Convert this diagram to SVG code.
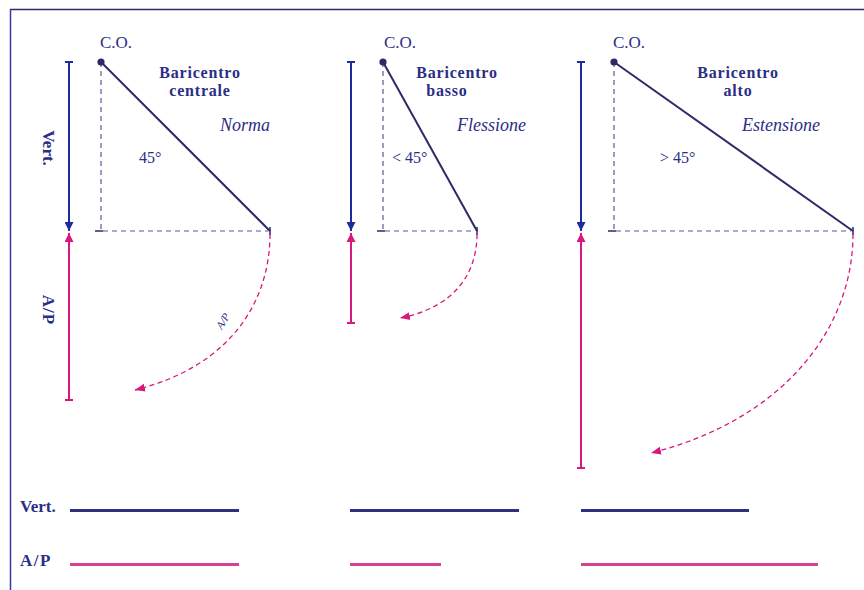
<svg xmlns="http://www.w3.org/2000/svg" width="864" height="590" viewBox="0 0 864 590">
<defs>
<marker id="ahBlue" viewBox="0 0 10 10" refX="10" refY="5" markerWidth="9" markerHeight="9" markerUnits="userSpaceOnUse" orient="auto"><path d="M0,0 L10,5 L0,10 Z" fill="#1f2a9c"/></marker>
<marker id="ahMag" viewBox="0 0 10 10" refX="10" refY="5" markerWidth="9" markerHeight="9" markerUnits="userSpaceOnUse" orient="auto"><path d="M0,0 L10,5 L0,10 Z" fill="#d8187e"/></marker>
<marker id="ahMagS" viewBox="0 0 10 10" refX="10" refY="5" markerWidth="10" markerHeight="10" markerUnits="userSpaceOnUse" orient="auto"><path d="M0,1 L10,5 L0,9 Z" fill="#d8187e"/></marker>
</defs>
<style>
.t{font-family:"Liberation Serif","Times New Roman",serif;fill:#2b2e85}
.co{font-size:17px}
.b{font-size:16px;font-weight:bold;text-anchor:middle;letter-spacing:0.8px}
.i{font-size:18px;font-style:italic}
.ang{font-size:16px}
.lab{font-size:17px;font-weight:bold}
.diag{stroke:#2c2a68;stroke-width:2;fill:none}
.dash{stroke:#5a5a96;stroke-width:1.2;stroke-dasharray:5,4;fill:none}
.tick{stroke:#2c2a68;stroke-width:1.5;fill:none}
.vb{stroke:#1f2a9c;stroke-width:2;fill:none}
.vm{stroke:#d8187e;stroke-width:2;fill:none}
.arc{stroke:#d8187e;stroke-width:1.3;stroke-dasharray:5,3.5;fill:none}
.lb{stroke:#2e3080;stroke-width:3}
.lm{stroke:#d8418f;stroke-width:3}
</style>
<rect width="864" height="590" fill="#ffffff"/>
<g id="frame">
<line x1="10" y1="9.5" x2="864" y2="9.5" stroke="#2b2b6e" stroke-width="1.5"/>
<line x1="10.5" y1="9" x2="10.5" y2="590" stroke="#3a3aa0" stroke-width="1.5"/>
</g>
<g id="side-labels">
<text class="t lab" transform="translate(43,148) rotate(90)" text-anchor="middle">Vert.</text>
<text class="t lab" transform="translate(43,310) rotate(90)" text-anchor="middle" letter-spacing="1">A/P</text>
</g>
<g id="panel-centrale">
<text class="t co" x="100" y="48">C.O.</text>
<path class="dash" d="M101,62 V231 H268"/>
<path class="tick" d="M95,231 H103 M270,227 V235"/>
<line class="diag" x1="101" y1="62" x2="270" y2="231"/>
<circle cx="101" cy="62" r="3.6" fill="#2c2a68"/>
<text class="t b" x="200" y="78">Baricentro</text>
<text class="t b" x="200" y="96">centrale</text>
<text class="t i" x="220" y="131">Norma</text>
<text class="t ang" x="139" y="163">45°</text>
<text class="t" font-size="11" font-style="italic" transform="translate(226,323) rotate(-58)" text-anchor="middle">A/P</text>
</g>
<g id="panel-basso">
<text class="t co" x="384" y="48">C.O.</text>
<path class="dash" d="M383,62 V231 H475"/>
<path class="tick" d="M377,231 H385 M477,227 V235"/>
<line class="diag" x1="383" y1="62" x2="477" y2="231"/>
<circle cx="383" cy="62" r="3.6" fill="#2c2a68"/>
<text class="t b" x="457" y="78">Baricentro</text>
<text class="t b" x="447" y="96">basso</text>
<text class="t i" x="457" y="131">Flessione</text>
<text class="t ang" x="392" y="163">&lt; 45°</text>
</g>
<g id="panel-alto">
<text class="t co" x="613" y="48">C.O.</text>
<path class="dash" d="M614,62 V231 H851"/>
<path class="tick" d="M608,231 H616 M853,227 V235"/>
<line class="diag" x1="614" y1="62" x2="853" y2="231"/>
<circle cx="614" cy="62" r="3.6" fill="#2c2a68"/>
<text class="t b" x="738" y="78">Baricentro</text>
<text class="t b" x="738" y="96">alto</text>
<text class="t i" x="742" y="131">Estensione</text>
<text class="t ang" x="660" y="163">&gt; 45°</text>
</g>
<g id="connectors">
<path class="vb" d="M65,62 H73 M69,62 V231" marker-end="url(#ahBlue)"/>
<path class="vm" d="M65,400 H73 M69,400 V233" marker-end="url(#ahMag)"/>
<path class="arc" d="M270,234 C270,300 232,366 135,390" marker-end="url(#ahMagS)"/>
<path class="vb" d="M347,62 H355 M351,62 V231" marker-end="url(#ahBlue)"/>
<path class="vm" d="M347,323 H355 M351,323 V233" marker-end="url(#ahMag)"/>
<path class="arc" d="M477,234 C477,276 452,308 400,318" marker-end="url(#ahMagS)"/>
<path class="vb" d="M577,62 H585 M581,62 V231" marker-end="url(#ahBlue)"/>
<path class="vm" d="M577,468 H585 M581,468 V233" marker-end="url(#ahMag)"/>
<path class="arc" d="M853,234 C853,330 782,420 651,453" marker-end="url(#ahMagS)"/>
</g>
<g id="legend">
<text class="t lab" x="20" y="512">Vert.</text>
<text class="t lab" x="20" y="566" letter-spacing="1.5">A/P</text>
<line class="lb" x1="70" y1="510.5" x2="239" y2="510.5"/>
<line class="lb" x1="350" y1="510.5" x2="519" y2="510.5"/>
<line class="lb" x1="581" y1="510.5" x2="749" y2="510.5"/>
<line class="lm" x1="70" y1="564.5" x2="239" y2="564.5"/>
<line class="lm" x1="350" y1="564.5" x2="441" y2="564.5"/>
<line class="lm" x1="581" y1="564.5" x2="818" y2="564.5"/>
</g>
</svg>
